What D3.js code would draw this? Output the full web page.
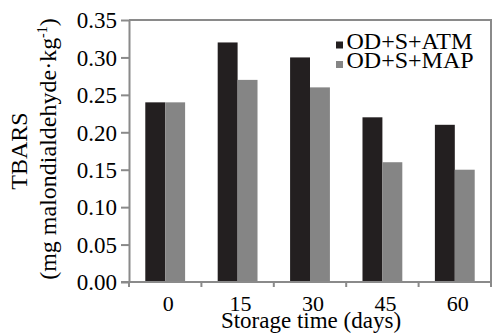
<!DOCTYPE html>
<html>
<head>
<meta charset="utf-8">
<script src="https://cdn.jsdelivr.net/npm/d3@7"></script>
<style>
  body { margin: 0; background: #fff; }
  svg text { font-family: "Times New Roman", Times, "Liberation Serif", Tinos, serif; }
</style>
</head>
<body>
<svg id="chart"></svg>
<script>
const days = ['0', '15', '30', '45', '60'];
const seriesNames = ['OD+S+ATM', 'OD+S+MAP'];
const atm = [0.24, 0.32, 0.30, 0.22, 0.21];
const map = [0.24, 0.27, 0.26, 0.16, 0.15];
const yTicks = [0, 0.05, 0.10, 0.15, 0.20, 0.25, 0.30, 0.35];

const width = 492, height = 335;
const margin = { top: 20, right: 1, bottom: 53, left: 129 };
const axisColor = '#8a8a8a';
const colors = ['#231f20', '#858585'];

const svg = d3.select('#chart')
  .attr('width', width)
  .attr('height', height);

const x0 = d3.scaleBand()
  .domain(days)
  .range([margin.left, width - margin.right])
  .paddingInner(0.45)
  .paddingOuter(0.225);

const x1 = d3.scaleBand()
  .domain(seriesNames)
  .range([0, x0.bandwidth()]);

const y = d3.scaleLinear()
  .domain([0, 0.35])
  .range([height - margin.bottom, margin.top]);

const color = d3.scaleOrdinal().domain(seriesNames).range(colors);

const rows = days.map((d, i) => ({ day: d, values: [atm[i], map[i]] }));

// bars
const groups = svg.selectAll('.group')
  .data(rows)
  .enter()
  .append('g')
  .attr('class', 'group')
  .attr('transform', d => `translate(${x0(d.day)},0)`);

groups.selectAll('rect')
  .data(d => d.values.map((v, i) => ({ key: seriesNames[i], value: v })))
  .enter()
  .append('rect')
  .attr('x', d => x1(d.key))
  .attr('y', d => y(d.value))
  .attr('width', x1.bandwidth())
  .attr('height', d => y(0) - y(d.value))
  .attr('fill', d => color(d.key));

// plot frame (top + right)
const [xl, xr] = x0.range();
svg.append('path')
  .attr('d', `M${xl},${y(0.35)}H${xr}V${y(0)}`)
  .attr('fill', 'none')
  .attr('stroke', axisColor)
  .attr('stroke-width', 2);

// y axis
const yAxis = svg.append('g')
  .attr('transform', `translate(${margin.left},0)`)
  .call(d3.axisLeft(y).tickValues(yTicks).tickFormat(d3.format('.2f')).tickSize(8).tickSizeOuter(0));
yAxis.attr('font-family', null);
yAxis.select('.domain').attr('stroke', axisColor).attr('stroke-width', 2);
yAxis.selectAll('.tick line').attr('stroke', axisColor).attr('stroke-width', 2);
yAxis.selectAll('.tick text')
  .attr('x', -12)
  .attr('dy', '0.34em')
  .attr('fill', '#000')
  .style('font-size', '23px');

// x axis: line + separators between categories
const step = x0.step();
const xAxis = svg.append('g');
xAxis.append('line')
  .attr('x1', margin.left - 8)
  .attr('x2', xr)
  .attr('y1', y(0))
  .attr('y2', y(0))
  .attr('stroke', axisColor)
  .attr('stroke-width', 2);
xAxis.selectAll('.sep')
  .data(d3.range(days.length + 1))
  .enter()
  .append('line')
  .attr('x1', i => xl + i * step)
  .attr('x2', i => xl + i * step)
  .attr('y1', y(0))
  .attr('y2', y(0) + 5)
  .attr('stroke', axisColor)
  .attr('stroke-width', 2);
xAxis.selectAll('.lab')
  .data(days)
  .enter()
  .append('text')
  .attr('x', d => x0(d) + x0.bandwidth() / 2 + 3)
  .attr('y', 311)
  .attr('text-anchor', 'middle')
  .style('font-size', '22px')
  .text(d => d);

svg.append('text')
  .attr('x', 311)
  .attr('y', 328)
  .attr('text-anchor', 'middle')
  .style('font-size', '23px')
  .text('Storage time (days)');

// y title
const yt = svg.append('text')
  .attr('transform', 'translate(27,151) rotate(-90)')
  .attr('text-anchor', 'middle')
  .style('font-size', '24px');
yt.append('tspan').attr('x', 0).attr('y', 0).text('TBARS');
const yt2 = svg.append('text')
  .attr('transform', 'translate(55.5,149) rotate(-90)')
  .attr('text-anchor', 'middle')
  .style('font-size', '24px');
yt2.append('tspan').text('(mg malondialdehyde·kg');
yt2.append('tspan').attr('dy', -9).style('font-size', '14px').text('-1');
yt2.append('tspan').attr('dy', 9).text(')');

// legend
const legend = svg.selectAll('.legend')
  .data(seriesNames)
  .enter()
  .append('g')
  .attr('class', 'legend')
  .attr('transform', (d, i) => `translate(336,${48.5 + i * 19.5})`);
legend.append('rect')
  .attr('x', 0)
  .attr('y', -7)
  .attr('width', 7)
  .attr('height', 7)
  .attr('fill', d => color(d));
legend.append('text')
  .attr('x', 10.5)
  .attr('y', 0)
  .style('font-size', '24px')
  .text(d => d);
</script>
</body>
</html>
